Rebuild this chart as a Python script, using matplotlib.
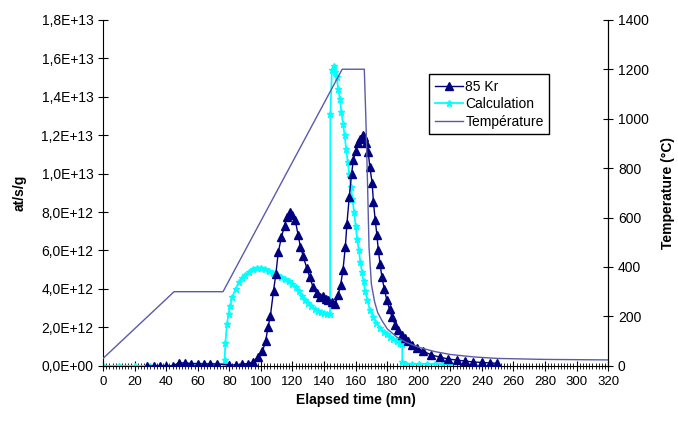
import matplotlib
matplotlib.use("Agg")
import matplotlib.pyplot as plt
from matplotlib.ticker import FuncFormatter, MultipleLocator

plt.rcParams["font.family"] = ["Liberation Sans", "DejaVu Sans"]

# ── data ──────────────────────────────────────────────────────────────────
# 85 Kr, at/s/g (x1e12)
kr_t = [28, 32, 36, 40, 44, 48, 52, 56, 60, 64, 68, 72, 80, 84, 88, 92, 95, 98,
        101, 103, 104.5, 106, 108, 109.5, 111, 113, 115, 116.5, 118.5, 120,
        121.7, 123.6, 125, 126.8, 129, 131, 133, 135.5, 137.5, 139.5, 141,
        142.6, 145, 147, 149, 150.5, 152, 153.5, 154.5, 156, 157.5, 158.5, 160,
        161.5, 163, 164.5, 165.5, 166.5, 168, 169, 170.5, 171.3, 172.4, 173.5,
        174.4, 175.5, 176.7, 178.2, 179.8, 181.5, 183, 185, 187, 189.5, 191,
        193, 196, 199, 203, 208, 213.5, 218.5, 224, 229.5, 234.5, 240, 245,
        249.5]
kr_v = [0, 0, 0, 0, 0, 0.15, 0.15, 0.12, 0.12, 0.1, 0.1, 0.1, 0.05, 0.05, 0.08,
        0.12, 0.2, 0.45, 0.75, 1.3, 2.0, 2.6, 3.9, 4.8, 5.9, 6.7, 7.3, 7.75, 8.0,
        7.85, 7.6, 6.8, 6.2, 5.7, 5.1, 4.6, 4.1, 3.8, 3.6, 3.65, 3.5, 3.4, 3.3,
        3.2, 3.7, 4.2, 5.0, 6.2, 7.4, 8.8, 10.0, 10.7, 11.2, 11.6, 11.8, 12.0,
        11.9, 11.6, 11.1, 10.35, 9.5, 8.5, 7.6, 6.8, 6.0, 5.3, 4.6, 4.0, 3.4,
        2.95, 2.55, 2.15, 1.85, 1.6, 1.45, 1.3, 1.1, 0.94, 0.75, 0.57, 0.45,
        0.36, 0.3, 0.25, 0.2, 0.18, 0.15, 0.13]

# Calculation, at/s/g (x1e12)
calc_t = [0, 10, 20, 30, 40, 47, 48, 52, 56, 60, 64, 68, 72, 76.5, 77, 77.5,
          78.5, 79.5, 80.5, 82, 84, 86, 88, 90, 92.5, 95, 97.5, 100, 102.5, 105,
          107.5, 110, 112.5, 115, 117.5, 120, 122, 124, 126, 128, 130, 132, 134,
          136, 138, 140, 142, 143.8, 144, 145, 146, 147, 148, 149, 150, 151,
          152, 153, 154, 155, 156, 157, 158, 159, 160, 161, 162, 163, 164, 165,
          166, 167.5, 169, 171, 173, 175.5, 178, 180, 182, 184, 186, 188, 189.5,
          189.6, 192, 196, 200, 205, 210, 215, 220]
calc_v = [0, 0, 0, 0, 0, 0, 0.1, 0.1, 0.1, 0.1, 0.1, 0.1, 0.1, 0.1, 0.3, 1.2,
          2.2, 2.7, 3.1, 3.6, 4.0, 4.35, 4.55, 4.7, 4.9, 5.05, 5.1, 5.1, 5.05,
          4.95, 4.85, 4.7, 4.6, 4.5, 4.4, 4.25, 4.1, 3.9, 3.65, 3.45, 3.25, 3.1,
          2.95, 2.85, 2.78, 2.74, 2.72, 2.7, 13.1, 15.4, 15.6, 15.3, 15.0, 14.4,
          13.9, 13.2, 12.6, 12.0, 11.3, 10.6, 10.0, 9.3, 8.7, 8.0, 7.3, 6.6, 6.0,
          5.4, 4.9, 4.4, 3.9, 3.4, 2.9, 2.55, 2.25, 1.95, 1.75, 1.65, 1.5, 1.4,
          1.3, 1.2, 1.15, 0.2, 0.12, 0.1, 0.1, 0.1, 0.1, 0.1, 0.08]

# Temperature (°C)
temp_t = [0, 45, 76, 151.5, 165.5, 166.5, 167.5, 168.5, 170, 172, 174, 177, 180,
          186, 192, 200, 210, 220, 235, 250, 280, 320]
temp_v = [30, 300, 300, 1200, 1200, 1000, 750, 480, 330, 260, 215, 180, 150,
          117, 95, 75, 58, 46, 36, 30, 26, 24]

SCALE = 1e12

# ── figure ────────────────────────────────────────────────────────────────
fig = plt.figure(figsize=(6.78, 4.21), dpi=100)
ax = fig.add_axes([0.152, 0.131, 0.745, 0.822])
ax2 = ax.twinx()

ln_kr, = ax.plot(kr_t, [v * SCALE for v in kr_v], color="#000080", lw=1,
                 marker="^", ms=5.5, label="85 Kr", zorder=3)
ln_calc, = ax.plot(calc_t, [v * SCALE for v in calc_v], color="#00FFFF", lw=1.3,
                   marker="*", ms=5, label="Calculation", zorder=2)
ln_temp, = ax2.plot(temp_t, temp_v, color="#5A5AAA", lw=1, label="Température")

ax.set_xlim(0, 320)
ax.set_ylim(0, 1.8e13)
ax2.set_ylim(0, 1400)

ax.xaxis.set_major_locator(MultipleLocator(20))
ax.xaxis.set_minor_locator(MultipleLocator(2))
ax.yaxis.set_major_locator(MultipleLocator(2e12))
ax2.yaxis.set_major_locator(MultipleLocator(200))
ax.yaxis.set_major_formatter(FuncFormatter(lambda v, p: f"{v:.1E}".replace(".", ",")))

ax.tick_params(axis="x", which="major", direction="inout", length=7, labelsize=9.5)
ax.tick_params(axis="x", which="minor", direction="inout", length=4)
ax.tick_params(axis="y", direction="inout", length=7, labelsize=10)
ax2.tick_params(axis="y", direction="inout", length=7, labelsize=10)

for a in (ax, ax2):
    a.spines["top"].set_visible(False)
ax2.spines["left"].set_visible(False)
ax2.spines["bottom"].set_visible(False)

ax.set_xlabel("Elapsed time (mn)", fontsize=10, fontweight="bold")
ax.set_ylabel("at/s/g", fontsize=10, fontweight="bold")
ax2.set_ylabel("Temperature (°C)", fontsize=10, fontweight="bold")
ax.yaxis.set_label_coords(-0.151, 0.5)
ax2.yaxis.set_label_coords(1.105, 0.5)

leg = ax.legend(handles=[ln_kr, ln_calc, ln_temp], loc="upper left",
                bbox_to_anchor=(0.633, 0.824), bbox_transform=fig.transFigure,
                borderaxespad=0, fancybox=False, framealpha=1, fontsize=10,
                handlelength=2, handletextpad=0.2, labelspacing=0.25,
                borderpad=0.4)
leg.get_frame().set_edgecolor("black")
leg.set_zorder(10)

fig.savefig("out.png", dpi=100)
